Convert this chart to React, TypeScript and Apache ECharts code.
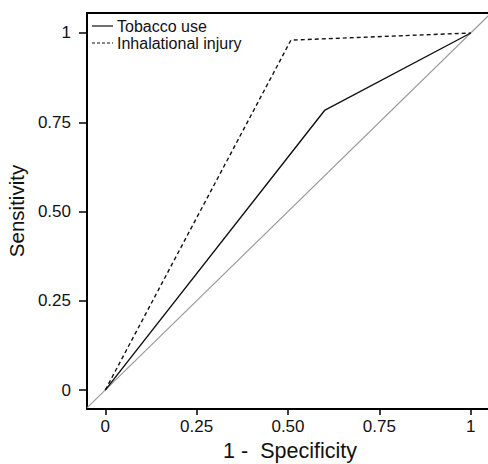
import React, { useEffect, useRef } from "react";
import * as echarts from "echarts";

const tickValues = [0, 0.25, 0.5, 0.75, 1];
const tickLabels = ["0", "0.25", "0.50", "0.75", "1"];

const seriesNames = ["Tobacco use", "Inhalational injury"];
const tobaccoFpr = [0, 0.6, 1];
const tobaccoTpr = [0, 0.783, 1];
const inhalFpr = [0, 0.508, 1];
const inhalTpr = [0, 0.98, 1];
const refLine = [-0.05, 1.06];

const FONT = "'Liberation Sans', Arial, Helvetica, sans-serif";

function labelFor(v: number): string {
  const i = tickValues.findIndex((t) => Math.abs(t - v) < 1e-9);
  return i >= 0 ? tickLabels[i] : "";
}

export default function App() {
  const ref = useRef<HTMLDivElement>(null);
  useEffect(() => {
    if (!ref.current) return;
    const chart = echarts.init(ref.current, undefined, { renderer: "svg" });
    const tob = tobaccoFpr.map((x, i) => [x, tobaccoTpr[i]]);
    const inh = inhalFpr.map((x, i) => [x, inhalTpr[i]]);
    const diag = refLine.map((v) => [v, v]);
    chart.setOption({
      animation: false,
      backgroundColor: "#fff",
      grid: {
        left: 87,
        top: 13,
        width: 406,
        height: 396,
        outerBoundsMode: "none",
        containLabel: false,
        show: true,
        borderColor: "#000",
        borderWidth: 2,
        backgroundColor: "transparent",
      },
      xAxis: {
        type: "value",
        min: -0.05,
        max: 1.061,
        splitLine: { show: false },
        axisLine: { show: false, onZero: false },
        axisTick: {
          show: true,
          length: 6,
          customValues: tickValues,
          lineStyle: { color: "#000", width: 1.5 },
        },
        axisLabel: {
          show: true,
          customValues: tickValues,
          formatter: (v: number) => labelFor(v),
          margin: 9,
          fontSize: 17,
          fontFamily: FONT,
          color: "#111",
        },
        name: "1 -  Specificity",
        nameLocation: "middle",
        nameGap: 31,
        nameTextStyle: { fontSize: 21.5, fontFamily: FONT, color: "#111" },
      },
      yAxis: {
        type: "value",
        min: -0.053,
        max: 1.056,
        splitLine: { show: false },
        axisLine: { show: false, onZero: false },
        axisTick: {
          show: true,
          length: 8,
          customValues: tickValues,
          lineStyle: { color: "#000", width: 1.5 },
        },
        axisLabel: {
          show: true,
          customValues: tickValues,
          formatter: (v: number) => labelFor(v),
          margin: 16,
          fontSize: 17,
          fontFamily: FONT,
          color: "#111",
        },
        name: "Sensitivity",
        nameLocation: "middle",
        nameGap: 54,
        nameTextStyle: { fontSize: 20.5, fontFamily: FONT, color: "#111" },
      },
      series: [
        {
          type: "line",
          name: "Reference",
          data: diag,
          showSymbol: false,
          symbol: "none",
          lineStyle: { color: "#9a9a9a", width: 1.2 },
          silent: true,
        },
        {
          type: "line",
          name: seriesNames[0],
          data: tob,
          showSymbol: false,
          symbol: "none",
          lineStyle: { color: "#111", width: 1.4 },
        },
        {
          type: "line",
          name: seriesNames[1],
          data: inh,
          showSymbol: false,
          symbol: "none",
          lineStyle: { color: "#111", width: 1.4, type: [4, 3] },
        },
      ],
      graphic: [
        {
          type: "line",
          shape: { x1: 92, y1: 26, x2: 113, y2: 26 },
          style: { stroke: "#111", lineWidth: 1.2 },
        },
        {
          type: "text",
          x: 117,
          y: 26,
          style: {
            text: seriesNames[0],
            fontSize: 16,
            fontFamily: FONT,
            fill: "#111",
            verticalAlign: "middle",
            align: "left",
          },
        },
        {
          type: "line",
          shape: { x1: 92, y1: 43, x2: 113, y2: 43 },
          style: { stroke: "#111", lineWidth: 1.2, lineDash: [3, 2] },
        },
        {
          type: "text",
          x: 117,
          y: 43,
          style: {
            text: seriesNames[1],
            fontSize: 16,
            fontFamily: FONT,
            fill: "#111",
            verticalAlign: "middle",
            align: "left",
          },
        },
      ],
    });
    return () => chart.dispose();
  }, []);
  return (
    <div
      ref={ref}
      style={{ position: "fixed", left: 0, top: 0, width: 488, height: 464, background: "#fff" }}
    />
  );
}
